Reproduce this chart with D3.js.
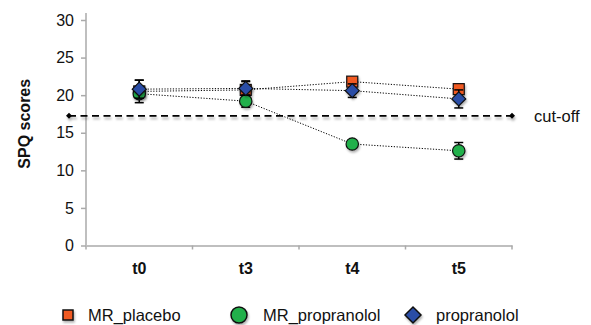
<!DOCTYPE html>
<html><head><meta charset="utf-8">
<script src="https://cdn.jsdelivr.net/npm/d3@7"></script>
<style>body{margin:0;background:#fff}svg{display:block;font-family:"Liberation Sans",Arial,Helvetica,sans-serif}</style>
</head><body><svg id="c" width="591" height="325"></svg>
<script>
const categories = ["t0","t3","t4","t5"];
const yTicks = [0,5,10,15,20,25,30];
const seriesNames = ["MR_placebo","MR_propranolol","propranolol"];
const placeboVals = [20.5, 20.7, 21.8, 20.8];
const placeboErr  = [1.5, 1.2, 0.4, 0.6];
const mrPropVals  = [20.2, 19.2, 13.5, 12.6];
const mrPropErr   = [0.6, 0.8, 0.4, 1.1];
const propVals    = [20.8, 20.9, 20.6, 19.5];
const propErr     = [1.2, 0.9, 0.9, 1.2];
const cutoff = 17.25;

const FS = 16;
const svg = d3.select("#c");
const margin = {l:86, r:79, t:20, b:80};
const W = 591, H = 325;
const x = d3.scaleBand().domain(categories).range([margin.l, W-margin.r]).padding(0);
const y = d3.scaleLinear().domain([0,30]).range([245.5, 20]);

const defs = svg.append("defs");
const f = defs.append("filter").attr("id","sh").attr("x","-50%").attr("y","-50%").attr("width","200%").attr("height","200%");
f.append("feDropShadow").attr("dx",1).attr("dy",2).attr("stdDeviation",1.2).attr("flood-color","#000").attr("flood-opacity",0.3);
const f2 = defs.append("filter").attr("id","sh2").attr("filterUnits","userSpaceOnUse")
  .attr("x",0).attr("y",0).attr("width",W).attr("height",H);
f2.append("feDropShadow").attr("dx",1).attr("dy",2.5).attr("stdDeviation",1.3).attr("flood-color","#000").attr("flood-opacity",0.3);

// y axis
const ya = svg.append("g").attr("transform",`translate(${margin.l},0)`)
  .call(d3.axisLeft(y).tickValues(yTicks).tickSize(5).tickPadding(7));
ya.select(".domain").attr("stroke","#aaa").attr("stroke-width",1.5).attr("d",`M0,${y(30)-7}V${y(0)}`);
ya.selectAll(".tick line").attr("stroke","#aaa").attr("stroke-width",1.5);
ya.selectAll(".tick text").attr("font-size",FS).attr("fill","#111").attr("font-family","Liberation Sans, Arial");

// x axis
const xa = svg.append("g").attr("transform",`translate(0,${y(0)})`)
  .call(d3.axisBottom(x).tickSize(0).tickPadding(17));
xa.select(".domain").attr("stroke","#aaa").attr("stroke-width",1.5);
xa.selectAll(".tick text").attr("font-size",FS).attr("font-weight","bold").attr("fill","#111").attr("font-family","Liberation Sans, Arial");
const edges = categories.map(c=>x(c)).concat([x(categories[3])+x.bandwidth()]);
svg.append("g").selectAll("line").data(edges).join("line")
  .attr("x1",d=>d).attr("x2",d=>d).attr("y1",y(0)).attr("y2",y(0)+4)
  .attr("stroke","#aaa").attr("stroke-width",1.5);

// y label
svg.append("text").attr("transform",`translate(30,${(y(0)+y(30))/2-9}) rotate(-90)`)
  .attr("text-anchor","middle").attr("font-size",FS).attr("font-weight","bold").attr("fill","#111").text("SPQ scores");

// cut-off
const cx0 = margin.l-17, cx1 = x(categories[3])+x.bandwidth();
const cg = svg.append("g").attr("filter","url(#sh2)");
cg.append("line").attr("x1",cx0).attr("x2",cx1).attr("y1",y(cutoff)).attr("y2",y(cutoff))
  .attr("stroke","#000").attr("stroke-width",1.6).attr("stroke-dasharray","7,4.5");
cg.selectAll("path").data([cx0,cx1]).join("path")
  .attr("d","M0,-3L3,0L0,3L-3,0Z").attr("transform",d=>`translate(${d},${y(cutoff)})`).attr("fill","#000");
svg.append("text").attr("x",cx1+22).attr("y",y(cutoff)+6).attr("font-size",16.5).attr("fill","#111").text("cut-off");

const series = [
  {name:seriesNames[0], vals:placeboVals, err:placeboErr, color:"#f15a24", shape:"square"},
  {name:seriesNames[1], vals:mrPropVals, err:mrPropErr, color:"#22b04b", shape:"circle"},
  {name:seriesNames[2], vals:propVals, err:propErr, color:"#2a4ea6", shape:"diamond"}
];
const cx = c => x(c)+x.bandwidth()/2;
const line = d3.line().x(d=>cx(d.c)).y(d=>y(d.v));
series.forEach(s=>{
  svg.append("path").datum(categories.map((c,i)=>({c,v:s.vals[i]})))
    .attr("d",line).attr("fill","none").attr("stroke","#000").attr("stroke-width",1).attr("stroke-dasharray","1.2,1.6");
});
function drawMarker(g, shape, color){
  if(shape==="square") g.append("rect").attr("x",-5.5).attr("y",-5.5).attr("width",11).attr("height",11);
  else if(shape==="circle") g.append("circle").attr("r",6.2);
  else g.append("path").attr("d","M0,-7L7,0L0,7L-7,0Z");
  g.selectAll("*").attr("fill",color).attr("stroke","#111").attr("stroke-width",1.2);
}
series.forEach(s=>{
  const g = svg.append("g");
  categories.forEach((c,i)=>{
    const v=s.vals[i], e=s.err[i], X=cx(c);
    const eb = g.append("g").attr("stroke","#000").attr("stroke-width",1.5);
    eb.append("line").attr("x1",X).attr("x2",X).attr("y1",y(v+e)).attr("y2",y(v-e));
    eb.append("line").attr("x1",X-4.5).attr("x2",X+4.5).attr("y1",y(v+e)).attr("y2",y(v+e));
    eb.append("line").attr("x1",X-4.5).attr("x2",X+4.5).attr("y1",y(v-e)).attr("y2",y(v-e));
    const m = g.append("g").attr("transform",`translate(${X},${y(v)})`).attr("filter","url(#sh)");
    drawMarker(m, s.shape, s.color);
  });
});

// legend
const legX = [68, 239, 413];
const lg = svg.append("g");
series.forEach((s,i)=>{
  const m = lg.append("g").attr("transform",`translate(${legX[i]},315)`).attr("filter","url(#sh)");
  if(s.shape==="square"){ m.append("rect").attr("x",-5).attr("y",-5).attr("width",10).attr("height",10); }
  else if(s.shape==="circle"){ m.append("circle").attr("r",8); }
  else { m.append("path").attr("d","M0,-8L8,0L0,8L-8,0Z"); }
  m.selectAll("*").attr("fill",s.color).attr("stroke","#111").attr("stroke-width",1.5);
  lg.append("text").attr("x",legX[i]+[20,24,23][i]).attr("y",321).attr("font-size",16.5).attr("fill","#111").text(s.name);
});
</script></body></html>
